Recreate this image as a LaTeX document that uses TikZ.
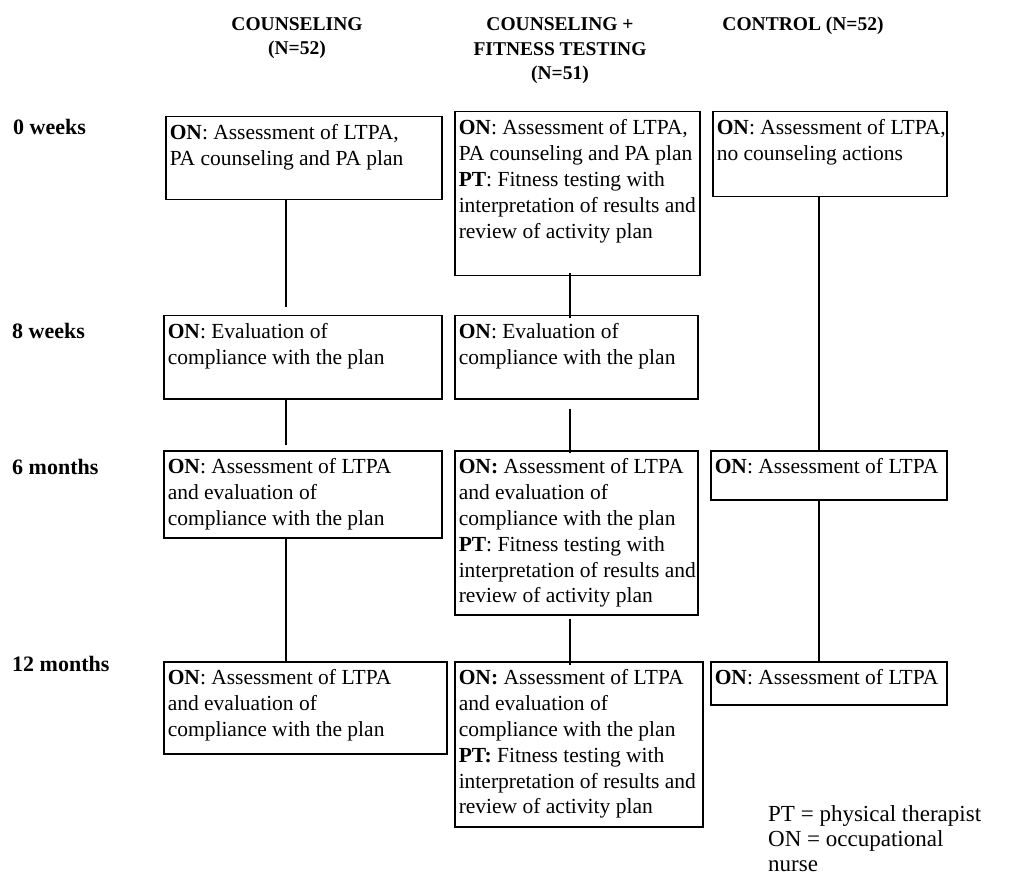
\documentclass[tikz,border=0pt]{standalone}
\usepackage{fontspec}
\setmainfont{Liberation Serif}
\usetikzlibrary{calc}

% fixed-size text cell: width, height (pt), lines of text
\newcommand{\boxtext}[3]{\parbox[t][#2pt][t]{#1pt}{%
  \begin{tabular}[t]{@{}l@{}}#3\end{tabular}}}

\tikzset{
  stagebox/.style={draw, line width=1.5pt, inner xsep=4pt, inner ysep=5pt,
    anchor=north west, font=\fontsize{21.5}{25.8}\selectfont},
  colhead/.style={anchor=base, align=center, inner sep=0pt,
    font=\fontsize{19.5}{24.5}\selectfont\bfseries},
  rowhead/.style={anchor=base west, inner sep=0pt,
    font=\fontsize{22}{24}\selectfont\bfseries},
  conn/.style={line width=1.5pt},
  legend/.style={anchor=base west, align=left, inner sep=0pt,
    font=\fontsize{23}{25}\selectfont}
}

\begin{document}
\begin{tikzpicture}[x=1pt,y=-1pt]
\path[fill=white, use as bounding box] (0,0) rectangle (1033,874);

% column headings (anchored at the baseline of their last line)
\node[colhead] (h1) at (297,55) {COUNSELING\\(N=52)};
\node[colhead] (h2) at (560,80) {COUNSELING +\\FITNESS TESTING\\(N=51)};
\node[colhead] (h3) at (803,31) {CONTROL (N=52)};

% time points
\node[rowhead] (t0) at (13,135) {0 weeks};
\node[rowhead] (t1) at (12,339) {8 weeks};
\node[rowhead] (t2) at (12,474) {6 months};
\node[rowhead] (t3) at (12,671) {12 months};

% counseling arm
\node[stagebox] (c1r0) at (165,116) {\boxtext{268}{73}{\textbf{ON}: Assessment of LTPA,\\PA counseling and PA plan}};
\node[stagebox] (c1r1) at (163,315) {\boxtext{270}{73}{\textbf{ON}: Evaluation of\\compliance with the plan}};
\node[stagebox] (c1r2) at (163,450) {\boxtext{270}{77}{\textbf{ON}: Assessment of LTPA\\and evaluation of\\compliance with the plan}};
\node[stagebox] (c1r3) at (163,661) {\boxtext{275}{82}{\textbf{ON}: Assessment of LTPA\\and evaluation of\\compliance with the plan}};

% counseling + fitness testing arm
\node[stagebox] (c2r0) at (454,111) {\boxtext{237}{154}{\textbf{ON}: Assessment of LTPA,\\PA counseling and PA plan\\\textbf{PT}: Fitness testing with\\interpretation of results and\\review of activity plan}};
\node[stagebox] (c2r1) at (454,315) {\boxtext{235}{73}{\textbf{ON}: Evaluation of\\compliance with the plan}};
\node[stagebox] (c2r2) at (454,450) {\boxtext{235}{154}{\textbf{ON:} Assessment of LTPA\\and evaluation of\\compliance with the plan\\\textbf{PT}: Fitness testing with\\interpretation of results and\\review of activity plan}};
\node[stagebox] (c2r3) at (454,661) {\boxtext{240}{155}{\textbf{ON:} Assessment of LTPA\\and evaluation of\\compliance with the plan\\\textbf{PT:} Fitness testing with\\interpretation of results and\\review of activity plan}};

% control arm
\node[stagebox] (c3r0) at (712,111) {\boxtext{226}{75}{\textbf{ON}: Assessment of LTPA,\\no counseling actions}};
\node[stagebox] (c3r2) at (710,450) {\boxtext{228}{39}{\textbf{ON}: Assessment of LTPA}};
\node[stagebox] (c3r3) at (710,661) {\boxtext{228}{33}{\textbf{ON}: Assessment of LTPA}};

% vertical timelines of each arm
\coordinate (s1) at (286,0);
\coordinate (s2) at (570,0);
\coordinate (s3) at (819,0);

\draw[conn, shorten >=8pt] (s1 |- c1r0.south) -- (s1 |- c1r1.north);
\draw[conn, shorten >=5pt] (s1 |- c1r1.south) -- (s1 |- c1r2.north);
\draw[conn] (s1 |- c1r2.south) -- (s1 |- c1r3.north);

\draw[conn, shorten <=-3pt, shorten >=-3pt] (s2 |- c2r0.south) -- (s2 |- c2r1.north);
\draw[conn, shorten <=9pt, shorten >=-3pt] (s2 |- c2r1.south) -- (s2 |- c2r2.north);
\draw[conn, shorten <=3pt, shorten >=-4pt] (s2 |- c2r2.south) -- (s2 |- c2r3.north);

\draw[conn] (s3 |- c3r0.south) -- (s3 |- c3r2.north);
\draw[conn] (s3 |- c3r2.south) -- (s3 |- c3r3.north);

% abbreviations (anchored at the baseline of the last line)
\node[legend] (key) at (768,871) {PT = physical therapist\\ON = occupational\\nurse};
\end{tikzpicture}
\end{document}
